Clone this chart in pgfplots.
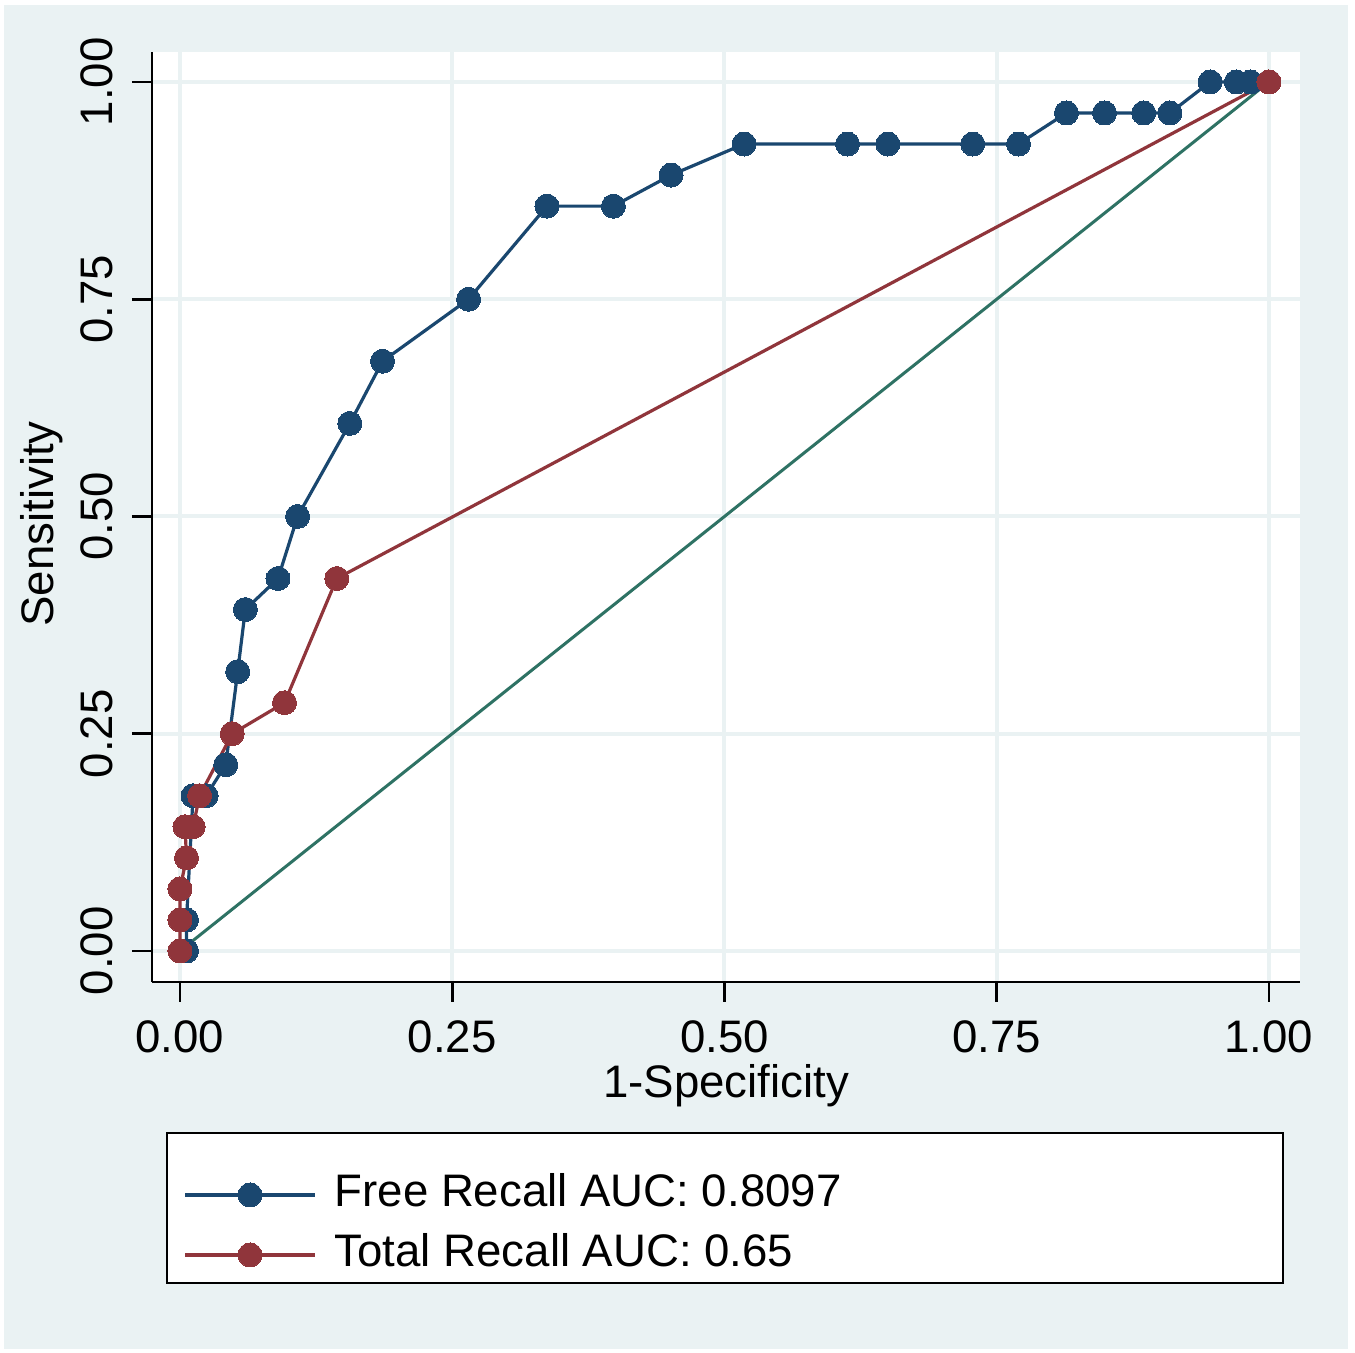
\documentclass[border=0pt]{standalone}
\usepackage{fontspec}
\setmainfont{Liberation Sans}
\usepackage{pgfplots}
\pgfplotsset{compat=1.18}
\definecolor{bgc}{HTML}{EAF2F3}
\definecolor{snavy}{HTML}{1A476F}
\definecolor{smaroon}{HTML}{90353B}
\definecolor{steal}{HTML}{2E7264}

\begin{document}
\begin{tikzpicture}
% outer graph region
\fill[white] (-76pt,-185.5pt) rectangle (601.5pt,491pt);
\fill[bgc] (-74pt,-183.5pt) rectangle (598pt,488.5pt);
% legend box
\draw[line width=1.4pt, fill=white] (7.5pt,-75.5pt) rectangle (565.5pt,-150.5pt);
\begin{axis}[
    at={(0pt,0pt)}, anchor=south west,
    scale only axis,
    width=574pt, height=465pt,
    xmin=-0.0257, xmax=1.0285,
    ymin=-0.0357, ymax=1.0345,
    axis x line*=bottom, axis y line*=left,
    axis line style={-, black, line width=1.3pt},
    axis background/.style={fill=white},
    xtick={0,0.25,0.5,0.75,1},
    ytick={0,0.25,0.5,0.75,1},
    xticklabels={0.00,0.25,0.50,0.75,1.00},
    yticklabels={0.00,0.25,0.50,0.75,1.00},
    /pgf/number format/assume math mode=true,
    tick align=outside,
    major tick length=10pt,
    tick style={black, line width=1.3pt},
    grid=major,
    major grid style={bgc, line width=2pt},
    tick label style={font=\fontsize{22.8}{25}\selectfont},
    xticklabel style={inner sep=0pt, yshift=-9pt},
    yticklabel style={rotate=90, anchor=south, inner xsep=0pt, inner ysep=0pt, yshift=9.5pt},
    label style={font=\fontsize{22.8}{25}\selectfont},
    xlabel={1-Specificity},
    ylabel={Sensitivity},
    xlabel style={at={(axis description cs:0.5,-0.1115)}, anchor=center},
    ylabel style={at={(axis description cs:-0.0958,0.4925)}, anchor=center},
    clip=false,
    legend style={draw=none, fill=none,
        at={(axis description cs:0.0218,-0.2022)}, anchor=north west,
        font=\fontsize{22.8}{25}\selectfont,
        nodes={inner sep=0pt, text height=16pt, text depth=4.5pt},
        row sep=9.5pt, column sep=9pt},
    legend cell align=left,
    legend image code/.code={\draw[mark repeat=2,mark phase=2]
        plot coordinates {(0pt,0pt) (32.5pt,0pt) (65pt,0pt)};},
]
\addplot[snavy, line width=1.6pt, mark=*, mark size=6pt,
    mark options={fill=snavy, draw=snavy, line width=0pt}] coordinates {
    (0.006,0) (0.006,0.0357) (0.012,0.1786) (0.024,0.1786) (0.042,0.2143)
    (0.053,0.3214) (0.060,0.3929) (0.090,0.4286) (0.108,0.5) (0.156,0.6071)
    (0.186,0.6786) (0.265,0.75) (0.337,0.8571) (0.398,0.8571) (0.451,0.8929)
    (0.518,0.9286) (0.613,0.9286) (0.650,0.9286) (0.728,0.9286) (0.770,0.9286)
    (0.814,0.9643) (0.849,0.9643) (0.885,0.9643) (0.909,0.9643)
    (0.946,1) (0.970,1) (0.983,1) (1,1)
};
\addlegendentry{Free Recall AUC: 0.8097}
\addplot[smaroon, line width=1.6pt, mark=*, mark size=6pt,
    mark options={fill=smaroon, draw=smaroon, line width=0pt}] coordinates {
    (0,0) (0,0.0357) (0,0.0714) (0.006,0.1071) (0.0046,0.1429) (0.012,0.1429)
    (0.018,0.1786) (0.048,0.25) (0.096,0.2857) (0.144,0.4286) (1,1)
};
\addlegendentry{Total Recall AUC: 0.65}
\addplot[steal, line width=1.5pt, forget plot] coordinates {(0,0) (1,1)};
\end{axis}
\end{tikzpicture}
\end{document}
